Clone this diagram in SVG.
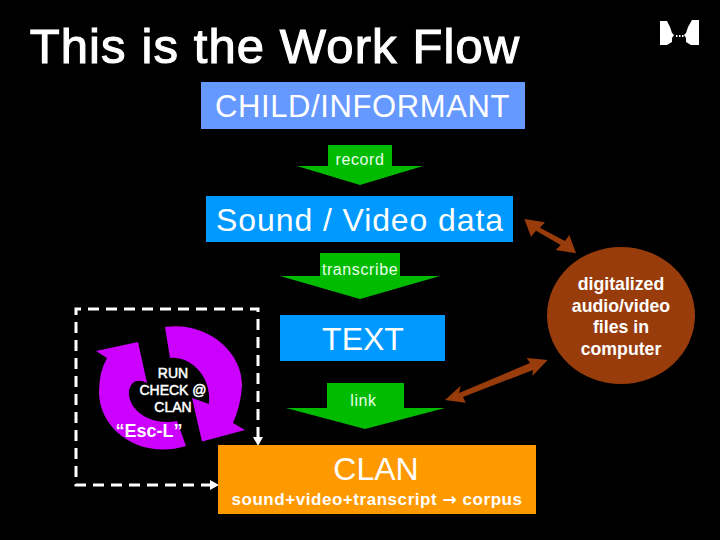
<svg xmlns="http://www.w3.org/2000/svg" width="720" height="540" viewBox="0 0 720 540">
<style>
text{font-family:"Liberation Sans",Arial,sans-serif;fill:#fff;text-anchor:middle}
.g{fill:#00bb00}
.p{fill:#cc00ff}
.b{fill:#993c0c}
.dash{fill:none;stroke:#fff;stroke-width:3;stroke-dasharray:11 7}
.ah{fill:#fff}
.lab{font-size:16px;fill:#eaffea;letter-spacing:.6px}
</style>
<rect width="720" height="540" fill="#000"/>
<text id="title" x="275" y="63" font-size="49" letter-spacing="1.100" stroke="#fff" stroke-width="1.100">This is the Work Flow</text>
<g id="logo">
<path class="ah" d="M660 21H667L670 27L672 33L674 35L672 38L672 42L667 45H660Z"/>
<path class="ah" d="M699 20H692L688 27L686 33L684 35L686 38L686 42L691 45H699Z"/>
<rect class="ah" x="676" y="35" width="1.500" height="2"/><rect class="ah" x="679" y="35" width="1.500" height="2"/><rect class="ah" x="682" y="35" width="1.500" height="2"/>
</g>
<g id="connectors">
<path class="dash" d="M258 438V309H76V485H214"/>
<path class="ah" d="M253 437H263L258 446Z"/>
<path class="ah" d="M210 480L219 485L210 490Z"/>
<path class="b" d="M524.300 219L545 222.300L540 227.700L565 241L569.300 235L576 253.300L555.700 250L560.700 245L536 230.700L531 236.700Z"/>
<path class="b" d="M445 400L460.700 385.700L459 393L530 363L526.700 358L547.700 360L532.300 376L533 370L463 397L465.700 402.700Z"/>
</g>
<g id="node-child"><rect x="201" y="82" width="324" height="47" fill="#6699ff"/><text x="362.500" y="117" font-size="31" letter-spacing=".6">CHILD/INFORMANT</text></g>
<g id="arrow-record"><path class="g" d="M328 145H392V166H423L360 185L297 166H328Z"/><text class="lab" x="360" y="165">record</text></g>
<g id="node-sound"><rect x="206" y="196" width="307" height="46" fill="#0099ff"/><text x="360" y="231" font-size="32" letter-spacing=".9">Sound / Video data</text></g>
<g id="arrow-transcribe"><path class="g" d="M320 253H400V276H440L360 299L280 276H320Z"/><text class="lab" x="360" y="275">transcribe</text></g>
<g id="node-text"><rect x="280" y="315" width="165" height="46" fill="#0099ff"/><text x="363" y="350" font-size="32">TEXT</text></g>
<g id="arrow-link"><path class="g" d="M327 383H404V408H445L365 429L286 408H327Z"/><text class="lab" x="363.500" y="406">link</text></g>
<g id="node-clan"><rect x="218" y="445" width="318" height="69" fill="#ff9900"/><text x="376" y="480" font-size="32">CLAN</text><text x="377" y="505" font-size="17" font-weight="bold" letter-spacing=".55" fill="#fff5d8">sound+video+transcript <tspan font-family="DejaVu Sans">→</tspan> corpus</text></g>
<g id="node-computer"><ellipse cx="621" cy="315.500" rx="74" ry="68.500" fill="#993c0c"/><text font-size="17.700" font-weight="bold" fill="#fff5e8"><tspan x="621" y="290">digitalized</tspan><tspan x="621" y="312">audio/video</tspan><tspan x="621" y="333">files in</tspan><tspan x="621" y="355">computer</tspan></text></g>
<g id="node-check">
<path class="p" d="M165 327C205 321 242 350 242 385Q241 405 233 423L245 430L202 441.500L192 398L209 404C212 378 192 356 170 358Z"/>
<path class="p" d="M96 351L138 342L147 383Q133 376 129 390C127 410 150 426 177 421L186 446C140 460 99 430 99 392Q99 372 107 358Z"/>
<text font-size="14" stroke="#fff" stroke-width="0.500"><tspan x="173" y="378">RUN</tspan><tspan x="173" y="395">CHECK @</tspan><tspan x="173" y="412">CLAN</tspan></text>
<text x="149" y="437" font-size="18" font-weight="bold" fill="#f0c8ff">“Esc-L”</text>
</g>
</svg>
